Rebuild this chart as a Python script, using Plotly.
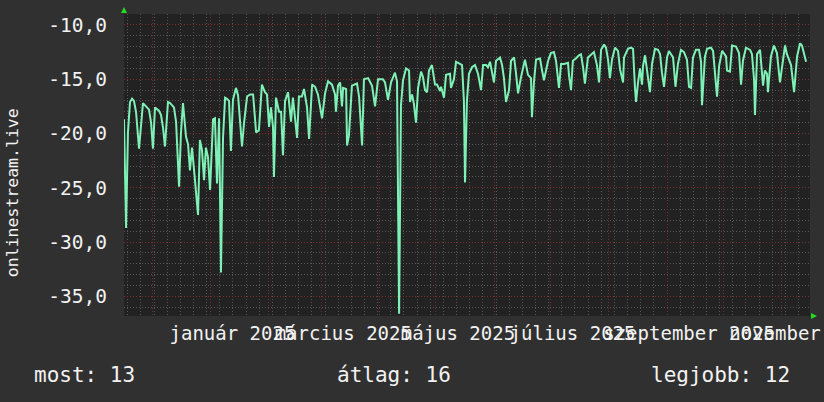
import pandas as pd
import plotly.graph_objects as go

# ---- data ----
start_date = "2024-11-16"
end_date = "2025-11-16 02:00"

days = [
    0, 1.1, 2.1, 3.2, 4.3, 5.3, 6.4, 8.0, 10.1, 11.2,
    12.2, 13.3, 14.4, 15.4, 16.5, 17.6, 18.6, 19.7, 20.8, 21.8,
    23.4, 24.5, 25.5, 26.6, 27.7, 29.3, 30.3, 31.4, 33.0, 34.1,
    35.1, 36.2, 37.3, 38.3, 39.4, 40.4, 41.5, 42.6, 43.6, 44.7,
    45.8, 47.4, 48.4, 49.5, 50.6, 51.6, 52.7, 53.8, 54.8, 55.9,
    56.9, 58.0, 59.6, 60.7, 61.7, 62.8, 63.9, 65.5, 67.1, 68.7,
    70.3, 71.8, 73.4,
    75.0, 76.1, 77.2, 78.2, 79.3, 79.8, 80.9, 82.5, 83.6, 84.6,
    85.7, 87.3, 88.9, 89.9, 90.5, 92.1, 93.1, 94.7, 95.8, 97.4,
    98.5, 100.1, 101.7, 103.2, 105.4, 107.0, 108.6, 110.7, 112.3, 112.8,
    113.9, 115.0, 116.0, 116.6, 118.2, 118.7, 119.7, 121.3, 124.0, 125.1,
    126.7, 127.7, 129.9, 132.0, 133.6, 135.2, 137.8, 138.9, 140.5, 142.1,
    144.2, 145.3, 146.4,
    147.4, 148.5, 150.1, 151.7, 152.2, 153.3, 154.3, 155.4, 156.5, 158.1,
    159.1, 160.2, 161.3, 162.3, 163.9, 165.5, 166.6, 168.2, 168.7, 170.3,
    171.4, 173.5, 174.0, 175.6, 176.7, 178.8, 179.9, 180.9, 181.5, 182.5,
    183.6, 185.2, 186.8, 188.4, 190.0, 191.1, 192.7, 193.7, 194.8, 195.8,
    196.9, 198.0, 200.1, 201.2, 202.2, 203.3, 204.9, 206.0, 207.6, 208.6,
    209.7, 211.3, 212.3, 213.4, 215.0, 216.6, 217.1, 218.2, 219.3,
    221.4, 222.5, 223.5, 225.7, 227.2, 228.8, 229.9, 231.5, 232.6, 234.2,
    236.3, 236.8, 237.9, 238.9, 240.5, 242.1, 243.2, 244.3, 245.3, 246.9,
    248.5, 250.1, 251.7, 252.8, 253.9, 255.5, 256.5, 257.6, 258.6, 259.7,
    261.3, 262.9, 264.0, 265.6, 266.1, 268.2, 269.8, 270.9, 271.9, 272.5,
    273.5, 274.6, 275.7, 276.2, 277.3, 278.9, 279.9, 281.0, 282.6, 284.2,
    285.3, 286.3, 287.4, 289.0, 290.0, 292.2, 293.5,
    294.8, 296.4, 298.0, 299.6, 300.7, 301.8, 302.8, 304.4, 306.0, 307.1,
    307.6, 309.2, 310.3, 312.4, 313.5, 314.5, 315.6, 316.7, 318.3, 320.4,
    320.9, 322.5, 323.6, 325.7, 327.3, 328.4, 329.4, 331.0, 333.2, 334.2,
    335.3, 335.8, 336.9, 338.5, 339.5, 340.1, 341.1, 342.2, 342.7, 344.3,
    345.9, 347.5, 349.1, 350.2, 351.8, 352.8, 355.0, 356.6, 358.2, 359.8,
    360.8, 363.0,
]

values = [
    -18.7, -28.7, -19.9, -17.1, -16.8, -17.0, -18.0, -21.4, -17.2, -17.4,
    -17.6, -17.8, -19.0, -21.4, -17.6, -17.8, -17.9, -18.3, -19.5, -21.2,
    -17.1, -17.2, -17.4, -17.6, -18.9, -24.9, -20.0, -17.2, -20.3, -21.0,
    -23.4, -21.3, -23.4, -25.2, -27.5, -20.6, -21.5, -24.3, -21.3, -22.2,
    -25.2, -18.7, -18.6, -24.6, -18.6, -32.8, -20.4, -16.7, -16.8, -17.0,
    -21.6, -16.9, -15.8, -16.5, -19.0, -21.2, -19.0, -16.6, -16.4, -16.4,
    -19.9, -19.7, -15.5,
    -16.2, -16.4, -19.4, -17.6, -19.4, -24.0, -16.7, -18.0, -18.0, -22.0,
    -17.0, -16.2, -18.9, -16.7, -17.6, -20.4, -16.6, -16.6, -15.9, -17.6,
    -20.5, -15.5, -15.7, -16.4, -18.6, -16.3, -15.2, -15.5, -16.4, -18.0,
    -15.6, -15.3, -17.5, -15.8, -15.9, -21.1, -20.2, -15.6, -15.4, -16.6,
    -21.1, -15.0, -14.9, -15.6, -17.5, -15.0, -15.0, -15.3, -16.9, -15.3,
    -14.4, -15.2, -36.6,
    -17.4, -15.1, -14.0, -14.2, -17.1, -16.4, -17.3, -19.0, -15.8, -14.3,
    -14.8, -16.0, -16.2, -14.2, -13.7, -15.5, -15.5, -16.1, -15.7, -16.7,
    -14.6, -14.5, -15.8, -15.0, -13.4, -13.6, -13.7, -17.0, -24.5, -17.0,
    -14.5, -13.9, -13.7, -14.5, -16.0, -13.7, -13.7, -13.9, -13.4, -14.3,
    -15.3, -13.3, -13.0, -13.7, -14.9, -17.1, -16.0, -13.3, -13.0, -14.4,
    -16.3, -14.8, -13.9, -13.2, -14.6, -14.9, -18.5, -15.2, -13.2,
    -13.1, -14.2, -15.1, -13.3, -12.6, -12.5, -13.3, -15.8, -13.6, -13.6,
    -13.5, -14.6, -16.0, -13.3, -13.1, -12.8, -12.7, -13.9, -15.4, -13.0,
    -12.7, -12.5, -13.7, -15.3, -12.3, -11.8, -12.1, -13.2, -14.9, -13.2,
    -12.1, -12.4, -14.1, -15.3, -13.0, -12.2, -12.1, -12.2, -15.7, -17.1,
    -15.4, -14.0, -15.5, -13.8, -12.8, -14.8, -16.2, -13.6, -12.2, -12.3,
    -12.7, -14.4, -15.7, -13.0, -12.4, -13.0, -15.7,
    -13.6, -12.3, -12.5, -13.2, -15.7, -15.8, -13.0, -12.3, -12.3, -13.4,
    -17.4, -12.9, -12.2, -12.1, -12.4, -14.6, -16.6, -13.8, -12.4, -12.9,
    -14.2, -14.3, -11.9, -12.0, -12.6, -15.5, -13.3, -12.1, -12.3, -12.7,
    -15.0, -18.3, -12.7, -12.3, -15.0, -15.6, -14.2, -14.5, -16.2, -12.9,
    -11.9, -12.6, -15.3, -13.7, -11.9, -12.7, -13.7, -16.2, -12.9, -11.7,
    -11.9, -13.4,
]

month_ticks = ["2024-12-01", "2025-01-01", "2025-02-01", "2025-03-01", "2025-04-01",
               "2025-05-01", "2025-06-01", "2025-07-01", "2025-08-01", "2025-09-01",
               "2025-10-01", "2025-11-01"]
month_labels = ["", "január 2025", "", "március 2025", "", "május 2025", "",
                "július 2025", "", "szeptember 2025", "", "november 2025"]

y_ticks = [-35, -30, -25, -20, -15, -10]
y_labels = ["-35,0", "-30,0", "-25,0", "-20,0", "-15,0", "-10,0"]

y_title = "onlinestream.live"
legend_texts = ["most: 13", "átlag: 16", "legjobb: 12"]

# ---- figure ----
dates = pd.Timestamp(start_date) + pd.to_timedelta(days, unit="D")

FONT = "DejaVu Sans Mono"
TXT = "#f2f2f2"
RED = "#7a2d2d"
GRAY = "#555555"
DOTS = "1px,2px"

fig = go.Figure(go.Scatter(
    x=dates, y=values, mode="lines",
    line=dict(color="#7ef2b6", width=2),
    hoverinfo="skip", showlegend=False,
))

fig.update_layout(
    width=824, height=402,
    margin=dict(l=124, r=14, t=14, b=86),
    paper_bgcolor="#303030",
    plot_bgcolor="#222222",
    showlegend=False,
    xaxis=dict(
        type="date",
        range=[start_date, end_date],
        tickmode="array", tickvals=month_ticks, ticktext=month_labels,
        tickangle=0, ticks="",
        ticklabelshift=22, ticklabelstandoff=4,
        ticklabeloverflow="allow",
        tickfont=dict(family=FONT, size=19, color=TXT),
        showgrid=True, gridcolor=RED, griddash=DOTS, gridwidth=1,
        zeroline=False, showline=False, automargin=False,
        minor=dict(tickmode="linear", tick0="2024-11-18", dtick=7 * 86400000,
                   showgrid=True, gridcolor=GRAY, griddash=DOTS, gridwidth=1),
    ),
    yaxis=dict(
        range=[-36.8, -9.0],
        tickmode="array", tickvals=y_ticks, ticktext=y_labels,
        ticks="", ticklabelstandoff=16,
        tickfont=dict(family=FONT, size=19.5, color=TXT),
        showgrid=True, gridcolor=RED, griddash=DOTS, gridwidth=1,
        zeroline=False, showline=False, automargin=False,
        minor=dict(tickmode="linear", tick0=0, dtick=1,
                   showgrid=True, gridcolor=GRAY, griddash=DOTS, gridwidth=1),
    ),
)

# y axis title
fig.add_annotation(
    text=y_title, xref="paper", yref="paper", x=-0.1633, y=0.41,
    textangle=-90, showarrow=False, xanchor="center", yanchor="middle",
    font=dict(family=FONT, size=16.5, color=TXT),
)

# legend line
fig.add_annotation(text=legend_texts[0], xref="paper", yref="paper",
                   x=-0.1341, y=-0.1954, xanchor="left", yanchor="middle",
                   showarrow=False, font=dict(family=FONT, size=21, color=TXT))
fig.add_annotation(text=legend_texts[1], xref="paper", yref="paper",
                   x=0.3076, y=-0.1954, xanchor="left", yanchor="middle",
                   showarrow=False, font=dict(family=FONT, size=21, color=TXT))
fig.add_annotation(text=legend_texts[2], xref="paper", yref="paper",
                   x=0.9738, y=-0.1954, xanchor="right", yanchor="middle",
                   showarrow=False, font=dict(family=FONT, size=21, color=TXT))

# axis arrows (green triangles)
fig.add_shape(type="path", xref="paper", yref="paper",
              path="M -0.0044 1.0033 L 0.0044 1.0033 L 0 1.0232 Z",
              fillcolor="#22dd22", line=dict(width=0))
fig.add_shape(type="path", xref="paper", yref="paper",
              path="M 1.0015 -0.0099 L 1.0015 0.0099 L 1.0102 0 Z",
              fillcolor="#22dd22", line=dict(width=0))

fig.write_html(
    "out.html",
    config={"displayModeBar": False},
    post_script="document.body.style.margin='0';document.body.style.background='#303030';",
)
